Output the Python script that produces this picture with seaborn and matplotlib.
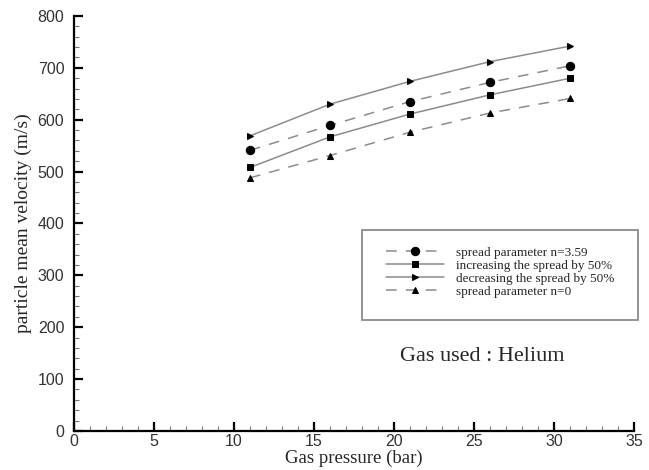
import matplotlib
matplotlib.use("Agg")
import matplotlib.pyplot as plt
from matplotlib.patches import Rectangle
from matplotlib.ticker import MultipleLocator
import seaborn as sns
import pandas as pd

# Gas pressure (bar)
pressure = [11, 16, 21, 26, 31]

# Particle mean velocity (m/s) for each spread setting
v_n359 = [541, 589, 635, 672, 704]
v_inc50 = [508, 567, 611, 648, 680]
v_dec50 = [569, 630, 674, 712, 742]
v_n0 = [488, 531, 576, 613, 641]

labels = [
    "spread parameter n=3.59",
    "increasing the spread by 50%",
    "decreasing the spread by 50%",
    "spread parameter n=0",
]

sns.set_style("ticks")
plt.rcParams["font.family"] = ["Liberation Serif", "DejaVu Serif"]

fig = plt.figure(figsize=(6.49, 4.70), dpi=100)
ax = fig.add_axes([0.114, 0.083, 0.863, 0.883])

dash = (0, (7, 6))
series = [
    (v_n359, labels[0], "o", dash, 6.0),
    (v_inc50, labels[1], "s", "-", 4.3),
    (v_dec50, labels[2], ">", "-", 4.8),
    (v_n0, labels[3], "^", dash, 4.5),
]

for vals, lab, mk, ls, ms in series:
    df = pd.DataFrame({"p": pressure, "v": vals})
    sns.lineplot(
        data=df, x="p", y="v", ax=ax, color="#8c8c8c", linewidth=1.1,
        linestyle=ls, marker=mk, markersize=ms, markerfacecolor="black",
        markeredgecolor="black", label=lab, legend=False,
    )

ax.set_xlim(0, 35)
ax.set_ylim(0, 800)
ax.xaxis.set_major_locator(MultipleLocator(5))
ax.xaxis.set_minor_locator(MultipleLocator(1))
ax.yaxis.set_major_locator(MultipleLocator(100))
ax.yaxis.set_minor_locator(MultipleLocator(20))

for side in ("top", "right"):
    ax.spines[side].set_visible(False)
for side in ("left", "bottom"):
    ax.spines[side].set_linewidth(1.6)
    ax.spines[side].set_color("black")

ax.tick_params(which="major", direction="in", length=6.5, width=1.6, colors="black",
               labelsize=11.5)
ax.tick_params(which="minor", direction="in", length=3.5, width=0.8, colors="#777777")
ax.tick_params(axis="x", which="major", pad=2.5)
ax.tick_params(axis="y", which="major", pad=7)
for t in ax.get_xticklabels() + ax.get_yticklabels():
    t.set_fontfamily(["Liberation Sans", "DejaVu Sans"])
    t.set_color("#333333")

ax.set_xlabel("Gas pressure (bar)", fontsize=13.5, labelpad=0)
ax.set_ylabel("particle mean velocity (m/s)", fontsize=14, labelpad=4)

# Legend frame and entries
box_x, box_y, box_w, box_h = 18.0, 213, 17.25, 174
ax.add_patch(Rectangle((box_x, box_y), box_w, box_h, fill=False, edgecolor="#8a8a8a",
                       linewidth=1.3, zorder=3, clip_on=False))
handles, hl = ax.get_legend_handles_labels()
leg = ax.legend(handles, hl, loc="center", bbox_to_anchor=(box_x, box_y + 6, box_w, box_h),
                bbox_transform=ax.transData, frameon=False, fontsize=9.5,
                handlelength=4.4, handletextpad=0.9, labelspacing=0.05,
                borderpad=0.0)

ax.text(25.5, 144, "Gas used : Helium", fontsize=16, ha="center", va="center")

fig.savefig("out.png", dpi=100, facecolor="white")
